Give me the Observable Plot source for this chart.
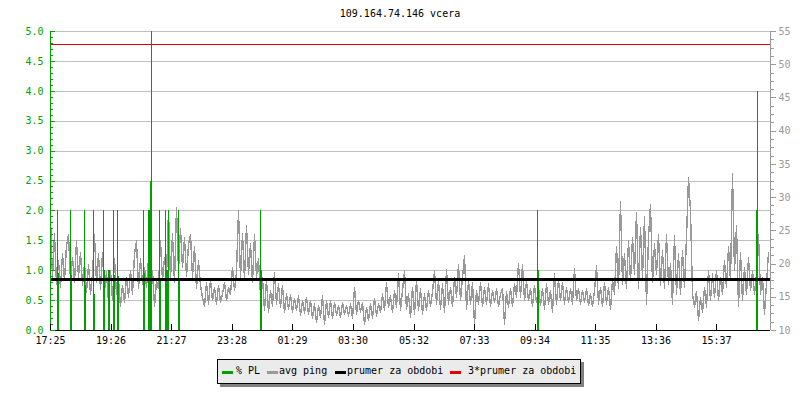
<!DOCTYPE html>
<html><head><meta charset="utf-8">
<script src="https://cdn.jsdelivr.net/npm/d3@7"></script>
<script src="https://cdn.jsdelivr.net/npm/@observablehq/plot@0.6"></script>
<style>
body{margin:0;background:#fff;width:800px;height:400px;position:relative;overflow:hidden;font-family:"DejaVu Sans Mono",monospace;font-size:10px;color:#000}
#title{position:absolute;left:0;top:8px;width:800px;text-align:center;line-height:12px}
#chart{position:absolute;left:0;top:0}
#chart svg line,#chart svg path{shape-rendering:crispEdges}
#legend{position:absolute;left:217px;top:359px;width:362px;height:23px;border:1px solid #000;background:#ebebeb;box-shadow:3px 3px 0 #808080}
.sw{position:absolute;top:11px;width:11px;height:3px}
.lt{position:absolute;top:5px;line-height:12px;white-space:pre}
</style></head>
<body>
<div id="title">109.164.74.146 vcera</div>
<div id="chart"></div>
<div id="legend">
  <div class="sw" style="left:4px;background:#00a000"></div><div class="lt" style="left:18px">% PL</div>
  <div class="sw" style="left:49px;background:#999999"></div><div class="lt" style="left:61px">avg ping</div>
  <div class="sw" style="left:117px;background:#000"></div><div class="lt" style="left:129px">prumer za obdobi</div>
  <div class="sw" style="left:232px;background:#e00000"></div><div class="lt" style="left:250px">3*prumer za obdobi</div>
</div>
<script>
// ---- data ----
const timeLabels = ["17:25","19:26","21:27","23:28","01:29","03:30","05:32","07:33","09:34","11:35","13:36","15:37"];
const leftTicks = [0,0.5,1,1.5,2,2.5,3,3.5,4,4.5,5];
const rightTicks = [10,15,20,25,30,35,40,45,50,55];
// avg ping [ms], one sample every 4 minutes from 17:25
const pingMs = [
26.6,18.0,24.5,17.0,20.5,16.5,21.5,17.5,22.8,24.4, 17.6,21.0,17.2,23.5,18.0,21.7,16.8,20.0,15.8,19.9,
15.4,18.5,24.4,17.2,21.5,16.2,21.7,15.9,18.8,14.3, 19.0,14.5,20.8,15.5,17.7,13.6,16.8,14.2,18.0,15.0,
19.0,15.4,21.5,23.5,16.3,20.8,17.0,19.5,16.5,20.8, 14.5,19.0,13.6,17.5,16.3,23.5,17.5,21.0,18.0,28.0,
17.7,24.5,17.2,28.5,19.0,25.3,19.5,24.0,18.1,23.0, 24.4,18.0,22.6,16.3,20.5,16.8,15.0,13.6,17.2,14.0,
17.7,14.5,16.5,14.0,16.8,14.3,15.5,17.2,14.5,16.5, 15.4,19.5,16.0,18.8,28.0,18.0,24.5,17.7,25.8,18.5,
23.0,17.2,24.4,18.0,20.8,15.4,18.0,13.0,17.7,12.7, 16.0,13.6,18.7,14.0,17.0,13.5,16.8,12.7,15.5,13.2,
15.4,12.7,14.8,13.0,15.2,12.3,14.5,12.6,15.0,12.5, 14.5,11.8,14.0,11.2,13.8,12.0,15.2,10.9,14.5,12.0,
14.5,11.8,14.2,12.3,13.8,12.0,14.2,12.4,13.8,12.2, 14.0,11.8,16.5,12.5,14.5,12.8,14.2,10.9,13.5,11.5,
14.0,11.8,14.8,12.2,14.0,12.7,15.5,13.0,17.2,13.5, 15.2,12.7,16.0,13.5,18.6,13.0,16.0,19.0,13.2,15.5,
12.0,16.5,12.5,17.6,13.0,16.3,12.5,15.5,13.0,16.0, 13.6,15.8,19.0,14.0,17.5,13.2,17.0,12.7,19.2,14.0,
16.5,13.6,18.0,15.0,19.9,14.5,18.0,21.3,13.2,17.5, 14.0,17.2,10.9,16.0,14.0,17.2,13.6,16.5,14.0,17.0,
13.6,16.0,14.2,16.3,13.6,15.5,16.3,11.0,15.8,13.5, 16.3,13.6,17.0,15.0,20.1,15.0,19.9,14.5,17.5,14.5,
16.3,13.6,16.8,14.2,16.5,13.8,16.3,13.2,17.0,14.0, 16.0,12.7,18.6,14.0,17.7,14.5,17.2,14.0,16.5,14.2,
16.3,14.0,19.3,14.5,16.3,14.0,16.0,14.2,16.3,13.8, 15.5,13.6,16.0,19.7,14.0,16.5,13.6,17.2,14.0,16.5,
13.2,17.7,15.5,22.6,16.3,29.4,17.0,21.5,16.3,23.5, 17.5,24.0,18.5,27.8,16.3,25.5,18.0,27.1,14.0,24.0,
29.0,17.2,23.0,18.5,24.4,16.8,22.0,16.3,24.4,17.0, 20.0,14.0,24.2,15.5,21.5,15.4,22.0,16.5,24.0,33.0,
28.0,15.5,13.5,15.9,11.5,15.0,12.7,16.5,13.5,19.0, 14.5,18.5,15.0,19.0,14.5,18.0,15.4,20.5,16.5,22.6,
17.5,33.6,19.0,25.8,13.6,21.7,14.5,19.5,15.4,21.0, 16.0,19.0,15.4,18.5,24.4,15.5,18.0,12.5,17.0,21.7
];
// packet loss spikes: minutes after 17:25 and % PL
const plMinutes = [14,16, 40,42, 68,70, 86,88, 106,108, 116,118, 126,128, 134,136, 186,188, 196,198,200,202, 218,220, 230,232,234,236, 256,258, 420,422, 974,976, 1412,1414];
const plValues  = [2.0,0.95, 2.0,0.92, 2.0,0.75, 2.0,0.61, 2.0,1.0, 1.0,1.0, 2.0,0.92, 2.0,0.9, 2.0,0.95, 2.0,2.0,2.5,5.0, 2.0,0.84, 2.0,1.0,1.0,2.0, 2.0,0.84, 2.0,1.0, 2.0,1.0, 2.0,4.0];
const prumerMs = 17.7;   // prumer za obdobi
const prumer3Ms = 53.1;  // 3*prumer za obdobi

// ---- build ----
const green = "#00a000", gray = "#999999";
const vOf = ms => (ms - 10) / 9;   // right axis (ms) -> left axis units
const startMin = 17 * 60 + 25;
const toMin = s => { const [h, m] = s.split(":").map(Number); return ((h * 60 + m - startMin) + 1440) % 1440; };
const tickPos = timeLabels.map(toMin);
const labelOf = new Map(tickPos.map((t, i) => [t, timeLabels[i]]));
const ping = pingMs.map((ms, i) => ({t: i * 4, v: vOf(ms)}));
const pl = plMinutes.map((t, i) => ({t, v: plValues[i]}));
const leftMinor = d3.range(0, 50).map(i => i / 10).filter(v => !leftTicks.includes(v));
const rightMinor = d3.range(10, 55.01, 1.25).filter(v => !rightTicks.includes(v));

const chart = Plot.plot({
  width: 800, height: 355,
  marginLeft: 50, marginRight: 30, marginTop: 31, marginBottom: 25,
  style: {fontFamily: "DejaVu Sans Mono", fontSize: "10px", background: "transparent", overflow: "visible"},
  x: {domain: [0, 1440], label: null},
  y: {domain: [0, 5], label: null},
  marks: [
    Plot.ruleY(leftTicks.filter(v => v > 0), {stroke: "#c0c0c0"}),
    Plot.line(ping, {x: "t", y: "v", stroke: gray, strokeWidth: 1.4}),
    Plot.ruleX(pl, {x: "t", y1: 0, y2: "v", stroke: green}),
    Plot.ruleY([vOf(prumerMs)], {stroke: "#000", strokeWidth: 3}),
    Plot.ruleY([vOf(prumer3Ms)], {stroke: "#e00000"}),
    Plot.ruleX([0], {stroke: green}),
    Plot.ruleX([1440], {stroke: gray}),
    Plot.ruleY([0], {stroke: "#000"}),
    Plot.tickY(leftMinor, {y: d => d, stroke: green, insetRight: 717}),
    Plot.tickY(leftTicks, {y: d => d, stroke: green, insetRight: 715}),
    Plot.axisY(leftTicks, {anchor: "left", tickSize: 0, tickPadding: 7, tickFormat: d => d.toFixed(1), color: green, label: null}),
    Plot.axisY(rightTicks.map(vOf), {anchor: "right", tickSize: 5, tickPadding: 3, tickFormat: v => String(Math.round(10 + 9 * v)), color: gray, label: null}),
    Plot.axisY(rightMinor.map(vOf), {anchor: "right", tickSize: 3, tickFormat: () => "", color: gray, label: null}),
    Plot.tickX(tickPos, {x: d => d, stroke: "#000", insetTop: 293}),
    Plot.axisX(tickPos, {anchor: "bottom", tickSize: 0, tickPadding: 6, tickFormat: d => labelOf.get(d), color: "#000", label: null})
  ]
});
document.getElementById("chart").appendChild(chart);
</script>
</body></html>
